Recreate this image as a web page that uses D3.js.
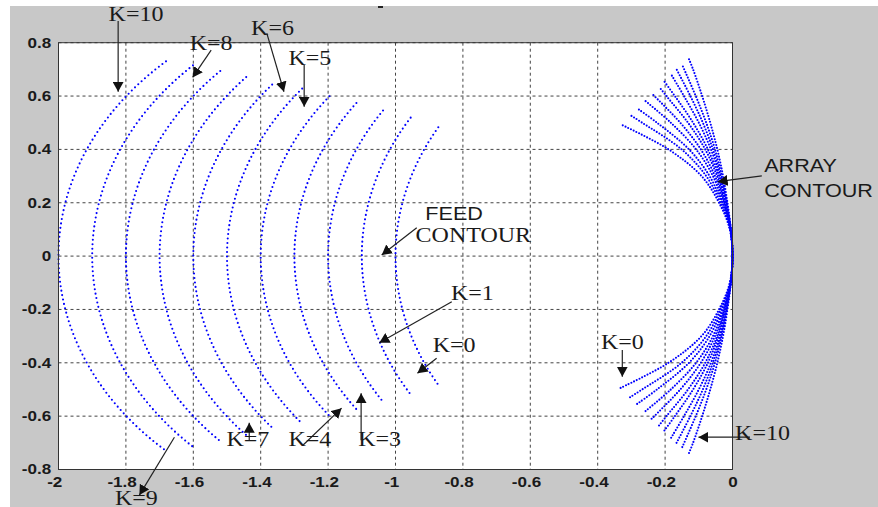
<!DOCTYPE html>
<html>
<head>
<meta charset="utf-8">
<script src="https://cdn.jsdelivr.net/npm/d3@7"></script>
<style>
  body { margin: 0; background: #fff; }
  svg { display: block; }
</style>
</head>
<body>
<svg id="chart" width="878" height="507"></svg>
<script>
// axis ticks
var xTicks = [-2, -1.8, -1.6, -1.4, -1.2, -1, -0.8, -0.6, -0.4, -0.2, 0];
var xTickLabels = ['-2', '-1.8', '-1.6', '-1.4', '-1.2', '-1', '-0.8', '-0.6', '-0.4', '-0.2', '0'];
var yTicks = [-0.8, -0.6, -0.4, -0.2, 0, 0.2, 0.4, 0.6, 0.8];
var yTickLabels = ['-0.8', '-0.6', '-0.4', '-0.2', '0', '0.2', '0.4', '0.6', '0.8'];

// feed contours K=0..10 : x at y=0, and x,y of the (symmetric) arc ends
var kValues = [0, 1, 2, 3, 4, 5, 6, 7, 8, 9, 10];
var feedVertexX = [-1.0, -1.1, -1.2, -1.3, -1.4, -1.5, -1.6, -1.7, -1.8, -1.9, -2.0];
var feedEndX = [-0.873, -0.955, -1.037, -1.116, -1.196, -1.277, -1.366, -1.443, -1.520, -1.601, -1.681];
var feedEndY = [0.483, 0.519, 0.546, 0.574, 0.599, 0.628, 0.643, 0.671, 0.694, 0.715, 0.730];

// array contours K=0..10 : x read at y = 0, 0.1, 0.2 ... then the curve end (lower half is the mirror)
var arrayLevelsY = [0, 0.1, 0.2, 0.3, 0.4, 0.5, 0.6, 0.7];
var arrayX = [
  [0, -0.008, -0.040, -0.092, -0.190],
  [0, -0.007, -0.036, -0.078, -0.151, -0.268],
  [0, -0.007, -0.032, -0.068, -0.129, -0.224],
  [0, -0.006, -0.029, -0.058, -0.108, -0.183],
  [0, -0.006, -0.026, -0.052, -0.094, -0.155],
  [0, -0.006, -0.024, -0.046, -0.081, -0.132, -0.196],
  [0, -0.005, -0.022, -0.042, -0.073, -0.117, -0.171],
  [0, -0.005, -0.020, -0.038, -0.064, -0.100, -0.144],
  [0, -0.005, -0.018, -0.035, -0.058, -0.088, -0.125],
  [0, -0.005, -0.017, -0.032, -0.052, -0.078, -0.109],
  [0, -0.005, -0.015, -0.028, -0.045, -0.066, -0.090, -0.117]
];
var arrayEndX = [-0.332, -0.304, -0.283, -0.258, -0.240, -0.218, -0.202, -0.182, -0.166, -0.149, -0.129];
var arrayEndY = [0.494, 0.529, 0.554, 0.581, 0.610, 0.635, 0.654, 0.681, 0.700, 0.716, 0.738];

// annotations, in data units: text position, arrow from (x1,y1) to tip (x2,y2)
var notes = [
  { text: 'K=10', font: 'serif', tx: -1.770, ty: 0.882, x1: -1.823, y1: 0.881, x2: -1.823, y2: 0.616 },
  { text: 'K=8', font: 'serif', tx: -1.547, ty: 0.772, x1: -1.547, y1: 0.772, x2: -1.602, y2: 0.670 },
  { text: 'K=6', font: 'serif', tx: -1.365, ty: 0.829, x1: -1.382, y1: 0.836, x2: -1.331, y2: 0.616 },
  { text: 'K=5', font: 'serif', tx: -1.254, ty: 0.716, x1: -1.271, y1: 0.716, x2: -1.271, y2: 0.560 },
  { text: 'FEED', font: 'sans', tx: -0.826, ty: 0.135 },
  { text: 'CONTOUR', font: 'serif', tx: -0.769, ty: 0.052, x1: -0.937, y1: 0.106, x2: -1.041, y2: 0.004 },
  { text: 'K=1', font: 'serif', tx: -0.772, ty: -0.165, x1: -0.833, y1: -0.171, x2: -1.048, y2: -0.325 },
  { text: 'K=0', font: 'serif', tx: -0.826, ty: -0.358, x1: -0.878, y1: -0.383, x2: -0.935, y2: -0.439 },
  { text: 'K=3', font: 'serif', tx: -1.047, ty: -0.711, x1: -1.102, y1: -0.690, x2: -1.102, y2: -0.514 },
  { text: 'K=4', font: 'serif', tx: -1.254, ty: -0.711, x1: -1.274, y1: -0.708, x2: -1.160, y2: -0.570 },
  { text: 'K=7', font: 'serif', tx: -1.438, ty: -0.711, x1: -1.434, y1: -0.690, x2: -1.434, y2: -0.625 },
  { text: 'K=9', font: 'serif', tx: -1.769, ty: -0.933, x1: -1.656, y1: -0.679, x2: -1.760, y2: -0.896 },
  { text: 'K=0', font: 'serif', tx: -0.327, ty: -0.348, x1: -0.327, y1: -0.352, x2: -0.327, y2: -0.452 },
  { text: 'K=10', font: 'serif', tx: 0.089, ty: -0.689, x1: 0.052, y1: -0.679, x2: -0.101, y2: -0.679 },
  { text: 'ARRAY', font: 'sans', tx: 0.094, ty: 0.316, anchor: 'start' },
  { text: 'CONTOUR', font: 'sans', tx: 0.094, ty: 0.223, anchor: 'start', x1: 0.087, y1: 0.301, x2: -0.044, y2: 0.279 }
];

var svg = d3.select('#chart');
var plotLeft = 58.5, plotRight = 732.5, plotTop = 42.7, plotBottom = 469.5;

var x = d3.scaleLinear().domain([-2, 0]).range([plotLeft, plotRight]);
var y = d3.scaleLinear().domain([-0.8, 0.8]).range([plotBottom, plotTop]);

// figure background
svg.append('rect').attr('width', 878).attr('height', 507).attr('fill', '#fff');
svg.append('rect').attr('x', 10).attr('y', 6).attr('width', 868).attr('height', 501).attr('fill', '#c8c8c8');
svg.append('rect').attr('x', 378).attr('y', 6).attr('width', 5).attr('height', 2).attr('fill', '#222');

svg.append('rect')
  .attr('x', plotLeft).attr('y', plotTop)
  .attr('width', plotRight - plotLeft).attr('height', plotBottom - plotTop)
  .attr('fill', '#fff');

// grid
svg.append('g').selectAll('line')
  .data(xTicks)
 .enter().append('line')
  .attr('x1', function(d) { return x(d); }).attr('x2', function(d) { return x(d); })
  .attr('y1', plotTop).attr('y2', plotBottom)
  .attr('stroke', '#444').attr('stroke-dasharray', '3,3');
svg.append('g').selectAll('line')
  .data(yTicks)
 .enter().append('line')
  .attr('y1', function(d) { return y(d); }).attr('y2', function(d) { return y(d); })
  .attr('x1', plotLeft).attr('x2', plotRight)
  .attr('stroke', '#444').attr('stroke-dasharray', '3,3');

// feed contours: circle arcs through the two ends and the vertex
var feed = svg.append('g');
kValues.forEach(function(k, i) {
  var vx = feedVertexX[i], ex = feedEndX[i], ey = feedEndY[i];
  var c = (vx * vx - ex * ex - ey * ey) / (2 * (vx - ex));
  var r = c - vx;
  var rx = x(r) - x(0), ry = y(0) - y(r);
  feed.append('path')
    .attr('d', 'M' + x(ex) + ',' + y(ey) + ' A' + rx + ',' + ry + ' 0 0 0 ' + x(ex) + ',' + y(-ey))
    .attr('fill', 'none')
    .attr('stroke', '#0000ff')
    .attr('stroke-width', 2.1)
    .attr('stroke-linecap', 'round')
    .attr('stroke-dasharray', '0,4.5');
});

// array contours
var line = d3.line()
  .x(function(d) { return x(d[0]); })
  .y(function(d) { return y(d[1]); })
  .curve(d3.curveCatmullRom.alpha(0.5));

var arr = svg.append('g');
kValues.forEach(function(k, i) {
  var upper = arrayX[i].map(function(v, j) { return [v, arrayLevelsY[j]]; });
  upper.push([arrayEndX[i], arrayEndY[i]]);
  var lower = upper.slice(1).reverse().map(function(p) { return [p[0], -p[1]]; });
  arr.append('path')
    .attr('d', line(lower.concat(upper)))
    .attr('fill', 'none')
    .attr('stroke', '#0000ff')
    .attr('stroke-width', 2.1)
    .attr('stroke-linecap', 'round')
    .attr('stroke-dasharray', '0,3');
});

// box
svg.append('rect')
  .attr('x', plotLeft).attr('y', plotTop)
  .attr('width', plotRight - plotLeft).attr('height', plotBottom - plotTop)
  .attr('fill', 'none').attr('stroke', '#333');

// axes
var xAxis = svg.append('g')
  .attr('transform', 'translate(0,' + plotBottom + ')')
  .call(d3.axisBottom(x).tickValues(xTicks).tickSize(0).tickPadding(7.5)
    .tickFormat(function(d, i) { return xTickLabels[i]; }));
var yAxis = svg.append('g')
  .attr('transform', 'translate(' + plotLeft + ',0)')
  .call(d3.axisLeft(y).tickValues(yTicks).tickSize(0).tickPadding(6)
    .tickFormat(function(d, i) { return yTickLabels[i]; }));
svg.selectAll('.domain').remove();
svg.selectAll('.tick text')
  .attr('font-family', 'Liberation Sans, Arial, sans-serif')
  .attr('font-size', 14)
  .attr('font-weight', 'bold')
  .attr('fill', '#1a1a1a')
  .attr('transform', 'scale(1.22,1)');
xAxis.selectAll('.tick text')
  .attr('dx', function(d, i) { return xTickLabels[i].charAt(0) === '-' ? '-0.25em' : 0; });

// annotations
var defs = svg.append('defs');
defs.append('marker')
  .attr('id', 'head')
  .attr('viewBox', '0 -5.5 10 11')
  .attr('refX', 10).attr('refY', 0)
  .attr('markerWidth', 10).attr('markerHeight', 11)
  .attr('markerUnits', 'userSpaceOnUse')
  .attr('orient', 'auto')
 .append('path')
  .attr('d', 'M0,-5.5L10,0L0,5.5Z')
  .attr('fill', '#111');

var ann = svg.append('g');
ann.selectAll('line')
  .data(notes.filter(function(d) { return d.x1 !== undefined; }))
 .enter().append('line')
  .attr('x1', function(d) { return x(d.x1); }).attr('y1', function(d) { return y(d.y1); })
  .attr('x2', function(d) { return x(d.x2); }).attr('y2', function(d) { return y(d.y2); })
  .attr('stroke', '#222').attr('stroke-width', 1.2)
  .attr('marker-end', 'url(#head)');

ann.selectAll('text')
  .data(notes)
 .enter().append('text')
  .attr('transform', function(d) { return 'translate(' + x(d.tx) + ',' + y(d.ty) + ') scale(1.2,1)'; })
  .attr('text-anchor', function(d) { return d.anchor || 'middle'; })
  .attr('font-family', function(d) { return d.font === 'serif' ? 'Liberation Serif, Times New Roman, serif' : 'Liberation Sans, Arial, sans-serif'; })
  .attr('font-size', function(d) { return d.font === 'serif' ? 20 : 18; })
  .attr('fill', '#1a1a1a')
  .text(function(d) { return d.text; });
</script>
</body>
</html>
